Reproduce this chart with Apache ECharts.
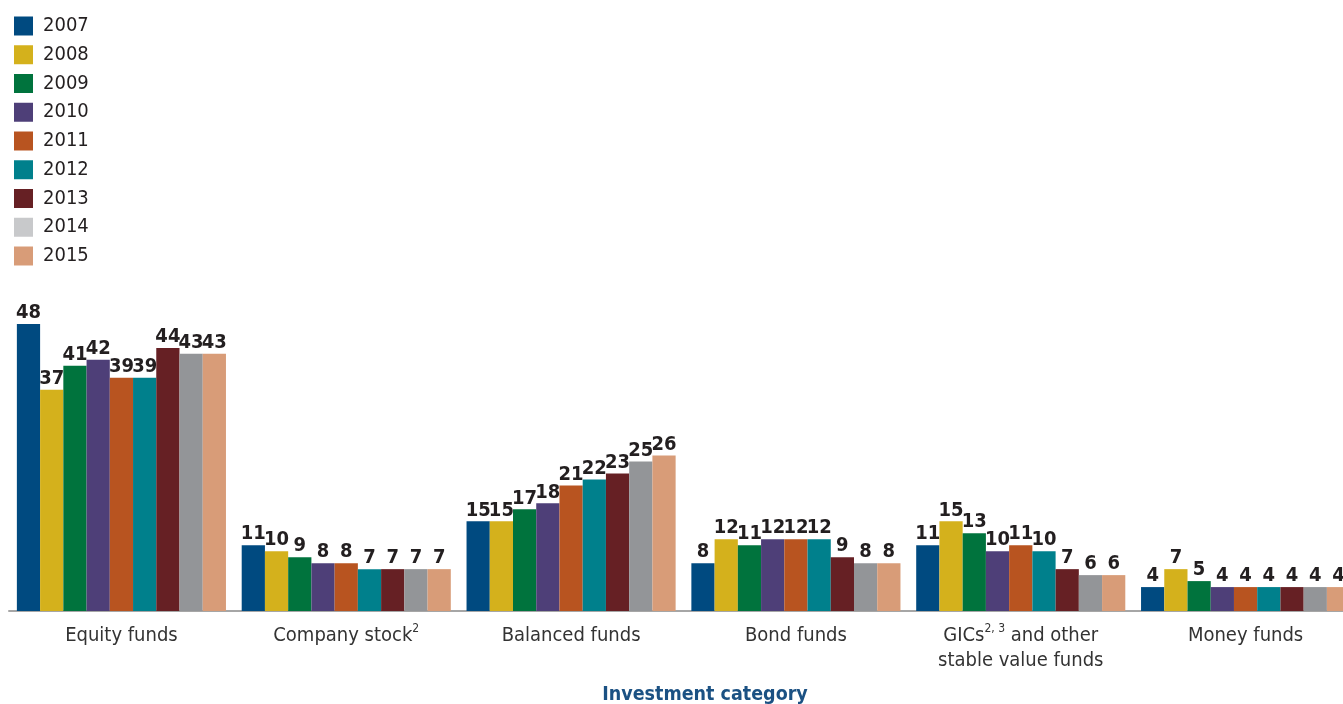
<!DOCTYPE html>
<html>
<head>
<meta charset="utf-8">
<script src="https://cdn.jsdelivr.net/npm/echarts@6/dist/echarts.min.js"></script>
<style>html,body{margin:0;padding:0;background:#fff;overflow:hidden}#c{width:1362px;height:704px}</style>
</head>
<body>
<div id="c"></div>
<script>
var categories = ['Equity funds', 'Company stock{sup|2}', 'Balanced funds', 'Bond funds', 'GICs{sup|2, 3} and other\nstable value funds', 'Money funds'];
var years = ['2007','2008','2009','2010','2011','2012','2013','2014','2015'];
var v2007 = [48, 11, 15, 8, 11, 4];
var v2008 = [37, 10, 15, 12, 15, 7];
var v2009 = [41, 9, 17, 11, 13, 5];
var v2010 = [42, 8, 18, 12, 10, 4];
var v2011 = [39, 8, 21, 12, 11, 4];
var v2012 = [39, 7, 22, 12, 10, 4];
var v2013 = [44, 7, 23, 9, 7, 4];
var v2014 = [43, 7, 25, 8, 6, 4];
var v2015 = [43, 7, 26, 8, 6, 4];
var seriesValues = [v2007, v2008, v2009, v2010, v2011, v2012, v2013, v2014, v2015];
var barColors = ['#004a80','#d4b11c','#00733d','#4e3f78','#b85420','#00808c','#662024','#939598','#d89c78'];
var legendColors = ['#004a80','#d4b11c','#00733d','#4e3f78','#b85420','#00808c','#662024','#c8c9cb','#d89c78'];

var FONT = '"DejaVu Sans Condensed", sans-serif';

var chart = echarts.init(document.getElementById('c'));
var series = years.map(function (y, i) {
  return {
    name: y,
    type: 'bar',
    data: seriesValues[i],
    barGap: '0%',
    barCategoryGap: '7%',
    itemStyle: { color: barColors[i] },
    label: {
      show: true,
      position: 'top',
      distance: 1,
      fontFamily: FONT,
      fontWeight: 'bold',
      fontSize: 20,
      color: '#231f20'
    }
  };
});

chart.setOption({
  animation: false,
  backgroundColor: '#fff',
  legend: {
    orient: 'vertical',
    left: 14,
    top: 16,
    padding: 0,
    itemWidth: 19,
    itemHeight: 19,
    itemGap: 8.75,
    icon: 'rect',
    textStyle: { fontFamily: FONT, fontSize: 20, lineHeight: 19, color: '#231f20', padding: [1,0,0,5] },
    data: years.map(function (y, i) { return { name: y, itemStyle: { color: legendColors[i] } }; })
  },
  title: {
    text: 'Investment category',
    left: 705,
    top: 685,
    padding: 0,
    textAlign: 'center',
    textStyle: { fontFamily: FONT, fontWeight: 'bold', fontSize: 19.5, color: '#1b5183' }
  },
  grid: { left: 9, width: 1349, top: 312, bottom: 93, containLabel: false },
  xAxis: {
    type: 'category',
    data: categories,
    axisLine: { lineStyle: { color: '#a6a6a6', width: 2 } },
    axisTick: { show: false },
    axisLabel: {
      interval: 0,
      margin: 12,
      fontFamily: FONT,
      fontSize: 20,
      lineHeight: 25,
      color: '#333333',
      rich: {
        sup: { fontFamily: FONT, fontSize: 12, color: '#333333', verticalAlign: 'top', lineHeight: 25, padding: [0,0,8,0] }
      }
    }
  },
  yAxis: {
    type: 'value',
    min: 0,
    max: 50,
    show: false
  },
  series: series
});
</script>
</body>
</html>
